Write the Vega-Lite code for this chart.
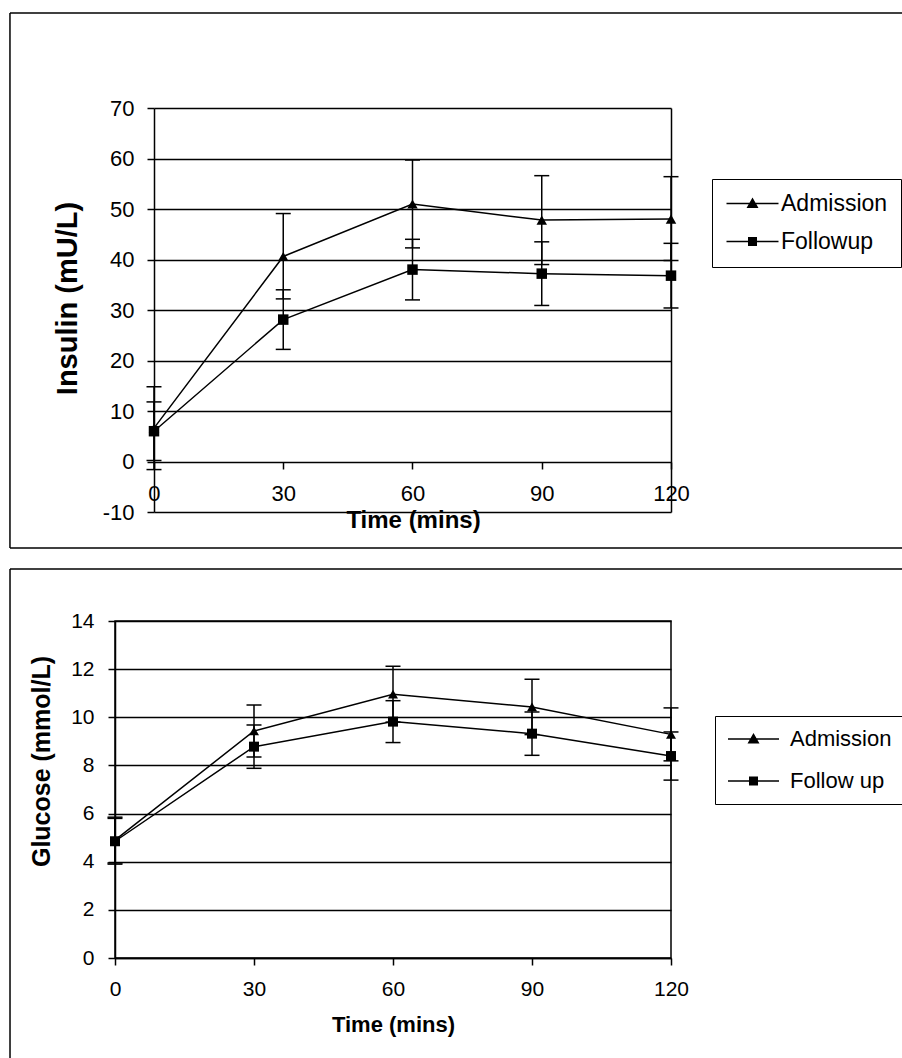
{
  "$schema": "https://vega.github.io/schema/vega-lite/v6.json",
  "padding": {"left": 8, "top": 12, "right": 0, "bottom": 0},
  "background": "white",
  "spacing": 18,
  "config": {
    "font": "Liberation Sans",
    "view": {"stroke": "black", "strokeWidth": 1.5},
    "axis": {
      "gridColor": "black", "gridOpacity": 1, "gridWidth": 1.5,
      "domainColor": "black", "domainWidth": 1.5,
      "tickColor": "black", "tickWidth": 1.5, "tickSize": 7,
      "labelColor": "black", "titleColor": "black",
      "labelFont": "Liberation Sans", "titleFont": "Liberation Sans",
      "titleFontWeight": "bold"
    }
  },
  "datasets": {
    "insulin": [
      {"series": "Admission", "time": 0, "mean": 6.6, "lo": -1.6, "hi": 14.8},
      {"series": "Admission", "time": 30, "mean": 40.6, "lo": 32.2, "hi": 49.1},
      {"series": "Admission", "time": 60, "mean": 51.0, "lo": 42.3, "hi": 59.7},
      {"series": "Admission", "time": 90, "mean": 47.8, "lo": 39.0, "hi": 56.6},
      {"series": "Admission", "time": 120, "mean": 48.0, "lo": 39.8, "hi": 56.4},
      {"series": "Followup", "time": 0, "mean": 6.0, "lo": 0.2, "hi": 11.8},
      {"series": "Followup", "time": 30, "mean": 28.1, "lo": 22.2, "hi": 34.0},
      {"series": "Followup", "time": 60, "mean": 38.0, "lo": 32.0, "hi": 44.0},
      {"series": "Followup", "time": 90, "mean": 37.2, "lo": 30.9, "hi": 43.5},
      {"series": "Followup", "time": 120, "mean": 36.8, "lo": 30.4, "hi": 43.2}
    ],
    "glucose": [
      {"series": "Admission", "time": 0, "mean": 4.9, "lo": 3.95, "hi": 5.85},
      {"series": "Admission", "time": 30, "mean": 9.43, "lo": 8.35, "hi": 10.51},
      {"series": "Admission", "time": 60, "mean": 10.96, "lo": 9.8, "hi": 12.12},
      {"series": "Admission", "time": 90, "mean": 10.43, "lo": 9.28, "hi": 11.58},
      {"series": "Admission", "time": 120, "mean": 9.29, "lo": 8.19, "hi": 10.39},
      {"series": "Follow up", "time": 0, "mean": 4.85, "lo": 3.9, "hi": 5.8},
      {"series": "Follow up", "time": 30, "mean": 8.78, "lo": 7.88, "hi": 9.68},
      {"series": "Follow up", "time": 60, "mean": 9.82, "lo": 8.95, "hi": 10.69},
      {"series": "Follow up", "time": 90, "mean": 9.32, "lo": 8.42, "hi": 10.22},
      {"series": "Follow up", "time": 120, "mean": 8.39, "lo": 7.39, "hi": 9.39}
    ]
  },
  "vconcat": [
    {
      "width": 556,
      "height": 404,
      "view": {"stroke": null},
      "data": {"name": "insulin"},
      "resolve": {"scale": {"shape": "independent"}, "legend": {"shape": "independent"}, "axis": {"y": "independent"}},
      "layer": [
        {
          "mark": {"type": "rule", "color": "black", "strokeWidth": 1.5},
          "encoding": {
            "x": {"field": "time", "type": "quantitative", "title": "Time (mins)",
              "scale": {"domain": [-9.05, 120], "nice": false, "zero": false},
              "axis": {"values": [0, 30, 60, 90, 120], "offset": -50, "grid": false, "domain": false, "labelFontSize": 22, "titleFontSize": 24, "labelPadding": 14, "titlePadding": 4, "labelFlush": false, "titleX": 298}},
            "y": {"field": "lo", "type": "quantitative", "title": "Insulin (mU/L)",
              "scale": {"domain": [-10, 70], "nice": false, "zero": false},
              "axis": {"orient": "left", "offset": -39, "grid": false, "values": [-10, 0, 10, 20, 30, 40, 50, 60, 70], "labelExpr": "'' + datum.value", "labelFontSize": 22, "titleFontSize": 29, "labelPadding": 13, "titlePadding": 20, "titleY": 190}},
            "y2": {"field": "hi"},
            "detail": {"field": "series"}
          }
        },
        {
          "mark": {"type": "tick", "orient": "horizontal", "color": "black", "thickness": 1.5, "size": 15, "opacity": 1},
          "encoding": {
            "x": {"field": "time", "type": "quantitative", "title": "Time (mins)"},
            "y": {"field": "lo", "type": "quantitative", "title": null,
              "axis": {"orient": "right", "grid": false, "labels": false, "domain": true, "ticks": true, "tickSize": -517, "values": [-10, 0, 10, 20, 30, 40, 50, 60, 70], "title": null}}
          }
        },
        {
          "mark": {"type": "tick", "orient": "horizontal", "color": "black", "thickness": 1.5, "size": 15, "opacity": 1},
          "encoding": {
            "x": {"field": "time", "type": "quantitative", "title": "Time (mins)"},
            "y": {"field": "hi", "type": "quantitative", "axis": null}
          }
        },
        {
          "mark": {"type": "line", "color": "black", "strokeWidth": 1.5},
          "encoding": {
            "x": {"field": "time", "type": "quantitative", "title": "Time (mins)"},
            "y": {"field": "mean", "type": "quantitative", "axis": null},
            "detail": {"field": "series"}
          }
        },
        {
          "mark": {"type": "point", "filled": true, "color": "black", "size": 110, "opacity": 1},
          "encoding": {
            "x": {"field": "time", "type": "quantitative", "title": "Time (mins)"},
            "y": {"field": "mean", "type": "quantitative", "axis": null},
            "shape": {"field": "series", "type": "nominal", "legend": null,
              "scale": {"domain": ["Admission", "Followup"], "range": ["triangle-up", "square"]}}
          }
        },
        {
          "mark": {"type": "point", "filled": true, "color": "black", "size": 400, "opacity": 0},
          "encoding": {
            "x": {"field": "time", "type": "quantitative", "title": "Time (mins)"},
            "y": {"field": "mean", "type": "quantitative", "axis": null},
            "shape": {"field": "series", "type": "nominal",
              "scale": {"domain": ["Admission", "Followup"], "range": ["M-1,-0.075H4.2V0.075H-1ZM1.6,-0.6L2.2,0.45L1,0.45Z", "M-1,-0.075H4.2V0.075H-1ZM1.15,-0.45H2.05V0.45H1.15Z"]},
              "legend": {
                "orient": "none", "legendX": 597, "legendY": 71, "title": null,
                "strokeColor": "black", "padding": 13, "symbolSize": 400, "symbolOpacity": 1,
                "labelOffset": 33, "rowPadding": 14, "labelFontSize": 23,
                "labelFont": "Liberation Sans", "labelColor": "black",
                "symbolFillColor": "black"
              }}
          }
        },
        {
          "data": {"values": [{}]},
          "mark": {"type": "rule", "color": "black", "strokeWidth": 1.5},
          "encoding": {
            "x": {"datum": -33.43, "type": "quantitative"},
            "y": {"datum": 88.8, "type": "quantitative", "axis": null},
            "y2": {"datum": -17.13}
          }
        },
        {
          "data": {"values": [{}]},
          "mark": {"type": "rule", "color": "black", "strokeWidth": 1.5},
          "encoding": {
            "x": {"datum": -33.43, "type": "quantitative"},
            "x2": {"datum": 173.9},
            "y": {"datum": 88.8, "type": "quantitative", "axis": null}
          }
        },
        {
          "data": {"values": [{}]},
          "mark": {"type": "rule", "color": "black", "strokeWidth": 1.5},
          "encoding": {
            "x": {"datum": -33.43, "type": "quantitative"},
            "x2": {"datum": 173.9},
            "y": {"datum": -17.13, "type": "quantitative", "axis": null}
          }
        }
      ]
    },
    {
      "width": 556,
      "height": 337,
      "data": {"name": "glucose"},
      "resolve": {"scale": {"shape": "independent"}, "legend": {"shape": "independent"}},
      "layer": [
        {
          "mark": {"type": "rule", "color": "black", "strokeWidth": 1.5},
          "encoding": {
            "x": {"field": "time", "type": "quantitative", "title": "Time (mins)",
              "scale": {"domain": [0, 120], "nice": false, "zero": false},
              "axis": {"values": [0, 30, 60, 90, 120], "grid": false, "labelFontSize": 21, "titleFontSize": 22, "labelPadding": 13, "titlePadding": 15, "labelFlush": false}},
            "y": {"field": "lo", "type": "quantitative", "title": "Glucose (mmol/L)",
              "scale": {"domain": [0, 14], "nice": false, "zero": false},
              "axis": {"values": [0, 2, 4, 6, 8, 10, 12, 14], "labelFontSize": 21, "titleFontSize": 25, "labelPadding": 14, "titlePadding": 16, "titleY": 140}},
            "y2": {"field": "hi"},
            "detail": {"field": "series"}
          }
        },
        {
          "mark": {"type": "tick", "orient": "horizontal", "color": "black", "thickness": 1.5, "size": 15, "opacity": 1},
          "encoding": {
            "x": {"field": "time", "type": "quantitative", "title": "Time (mins)"},
            "y": {"field": "lo", "type": "quantitative", "title": "Glucose (mmol/L)"}
          }
        },
        {
          "mark": {"type": "tick", "orient": "horizontal", "color": "black", "thickness": 1.5, "size": 15, "opacity": 1},
          "encoding": {
            "x": {"field": "time", "type": "quantitative", "title": "Time (mins)"},
            "y": {"field": "hi", "type": "quantitative", "title": "Glucose (mmol/L)"}
          }
        },
        {
          "mark": {"type": "line", "color": "black", "strokeWidth": 1.5},
          "encoding": {
            "x": {"field": "time", "type": "quantitative", "title": "Time (mins)"},
            "y": {"field": "mean", "type": "quantitative", "title": "Glucose (mmol/L)"},
            "detail": {"field": "series"}
          }
        },
        {
          "mark": {"type": "point", "filled": true, "color": "black", "size": 100, "opacity": 1},
          "encoding": {
            "x": {"field": "time", "type": "quantitative", "title": "Time (mins)"},
            "y": {"field": "mean", "type": "quantitative", "title": "Glucose (mmol/L)"},
            "shape": {"field": "series", "type": "nominal", "legend": null,
              "scale": {"domain": ["Admission", "Follow up"], "range": ["triangle-up", "square"]}}
          }
        },
        {
          "mark": {"type": "point", "filled": true, "color": "black", "size": 400, "opacity": 0},
          "encoding": {
            "x": {"field": "time", "type": "quantitative", "title": "Time (mins)"},
            "y": {"field": "mean", "type": "quantitative", "title": "Glucose (mmol/L)"},
            "shape": {"field": "series", "type": "nominal",
              "scale": {"domain": ["Admission", "Follow up"], "range": ["M-1,-0.075H4.1V0.075H-1ZM1.55,-0.6L2.15,0.45L0.95,0.45Z", "M-1,-0.075H4.1V0.075H-1ZM1.1,-0.45H2V0.45H1.1Z"]},
              "legend": {
                "orient": "none", "legendX": 600, "legendY": 95, "title": null,
                "strokeColor": "black", "padding": 12, "symbolSize": 400, "symbolOpacity": 1,
                "labelOffset": 41, "rowPadding": 20, "labelFontSize": 22,
                "labelFont": "Liberation Sans", "labelColor": "black",
                "symbolFillColor": "black"
              }}
          }
        },
        {
          "data": {"values": [{}]},
          "mark": {"type": "rule", "color": "black", "strokeWidth": 1.5},
          "encoding": {
            "x": {"datum": -22.66, "type": "quantitative"},
            "y": {"datum": 16.16, "type": "quantitative"},
            "y2": {"datum": -4.15}
          }
        },
        {
          "data": {"values": [{}]},
          "mark": {"type": "rule", "color": "black", "strokeWidth": 1.5},
          "encoding": {
            "x": {"datum": -22.66, "type": "quantitative"},
            "x2": {"datum": 170.1},
            "y": {"datum": 16.16, "type": "quantitative"}
          }
        }
      ]
    }
  ],
  "resolve": {
    "scale": {"x": "independent", "y": "independent", "shape": "independent"},
    "legend": {"shape": "independent"}
  }
}
